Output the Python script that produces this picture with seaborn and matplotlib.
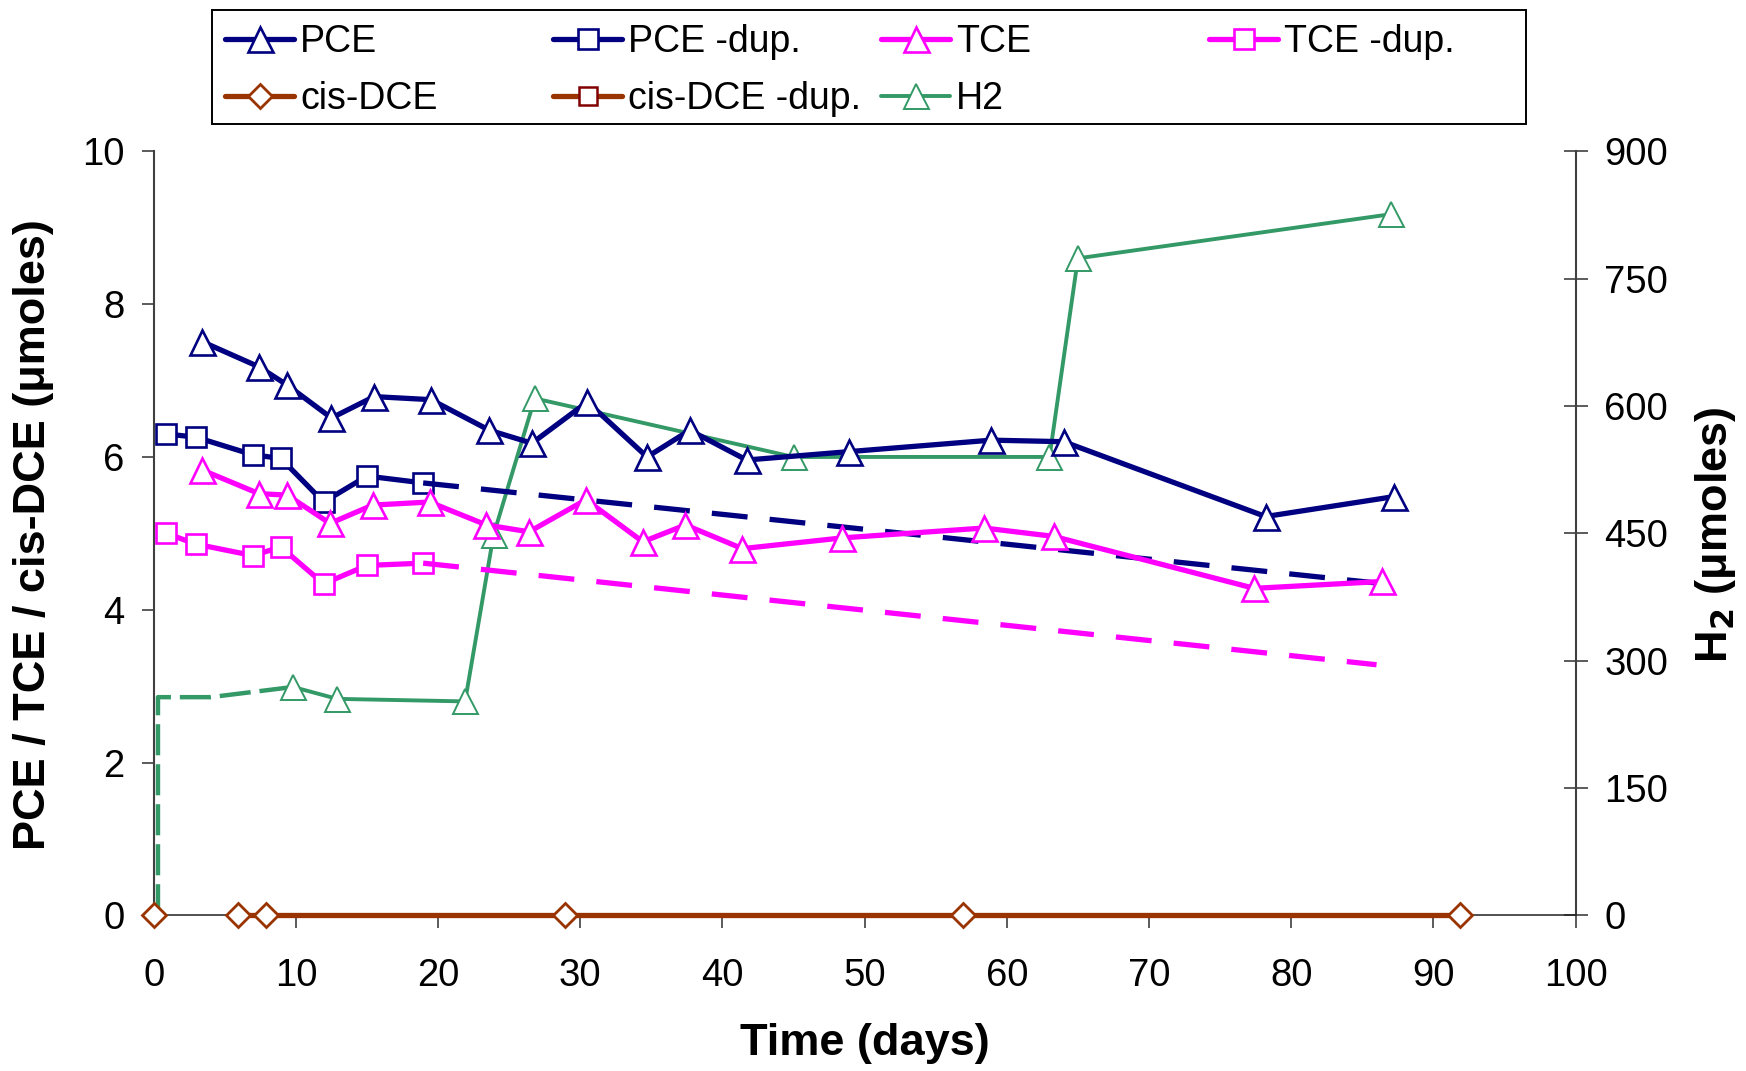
import matplotlib
matplotlib.use("Agg")
import matplotlib.pyplot as plt
from matplotlib.lines import Line2D
from matplotlib.patches import Rectangle
import seaborn as sns

# ---- data -------------------------------------------------------------
days_pce = [3.4, 7.4, 9.4, 12.5, 15.5, 19.5, 23.6, 26.6, 30.5, 34.7, 37.7,
            41.7, 48.9, 58.9, 64.0, 78.2, 87.2]
pce = [7.51, 7.18, 6.94, 6.51, 6.79, 6.75, 6.35, 6.18, 6.72, 6.00, 6.35,
       5.96, 6.07, 6.22, 6.20, 5.22, 5.48]

days_tce = [3.4, 7.4, 9.4, 12.4, 15.4, 19.4, 23.4, 26.4, 30.4, 34.4, 37.4,
            41.4, 48.4, 58.4, 63.3, 77.4, 86.4]
tce = [5.83, 5.52, 5.50, 5.13, 5.37, 5.41, 5.11, 5.02, 5.44, 4.89, 5.11,
       4.80, 4.94, 5.07, 4.96, 4.28, 4.37]

days_dup = [0.9, 2.95, 6.95, 8.95, 11.95, 15.0, 18.95]
pce_dup = [6.30, 6.26, 6.03, 5.98, 5.41, 5.75, 5.66]
tce_dup = [5.00, 4.86, 4.71, 4.82, 4.34, 4.58, 4.61]

# projected continuation of the duplicate series
days_dup_trend = [18.95, 86.0]
pce_dup_trend = [5.66, 4.35]
tce_dup_trend = [4.61, 3.28]

days_dce = [0.0, 5.9, 7.9, 28.9, 56.9, 91.9]
cis_dce = [0.0, 0.0, 0.0, 0.0, 0.0, 0.0]
days_dce_dup = []
cis_dce_dup = []

days_h2 = [9.8, 12.9, 21.9, 23.9, 26.8, 45.0, 63.0, 65.0, 87.0]
h2 = [269, 255, 252, 448, 609, 540, 540, 774, 826]

# initial H2 charge (before first measurement)
days_h2_start = [0.3, 0.3, 4.0, 9.8]
h2_start = [0, 257, 257, 269]

x_ticks = [0, 10, 20, 30, 40, 50, 60, 70, 80, 90, 100]
y_ticks = [0, 2, 4, 6, 8, 10]
h2_ticks = [0, 150, 300, 450, 600, 750, 900]

# ---- style ------------------------------------------------------------
NAVY = "#000080"
MAGENTA = "#FF00FF"
BROWN = "#993300"
DARKRED = "#800000"
GREEN = "#339966"
SPINE = "#404040"

sns.set_theme(style="white")
plt.rcParams["font.family"] = ["Liberation Sans", "DejaVu Sans"]
plt.rcParams.update({"text.color": "black", "axes.labelcolor": "black",
                     "xtick.color": "black", "ytick.color": "black"})

W, H, DPI = 1746, 1071, 100
fig = plt.figure(figsize=(W / DPI, H / DPI), dpi=DPI)
ax = fig.add_axes([153.7 / W, 1 - 915.3 / H, (1575.6 - 153.7) / W,
                   (915.3 - 151.4) / H])
ax2 = ax.twinx()
ax.set_zorder(ax2.get_zorder() + 1)
ax.patch.set_visible(False)

LW = 3.8
TRI_MS, SQ_MS, DI_MS = 18.0, 15.0, 12.0


def series(axis, x, y, color, marker=None, ms=0, lw=LW, ls="-", mew=1.9,
           mec=None):
    sns.lineplot(x=x, y=y, ax=axis, color=color, linewidth=lw, linestyle=ls,
                 marker=marker if marker else "", markersize=ms,
                 markerfacecolor="white", markeredgecolor=mec or color,
                 markeredgewidth=mew, estimator=None, sort=False,
                 legend=False, clip_on=False, zorder=3)
    return axis.lines[-1]


dash_long = (0, (6.8, 4.2))

# H2 on the secondary axis
series(ax2, days_h2_start, h2_start, GREEN, lw=3.2, ls=(0, (7.0, 2.0)))
h_h2 = series(ax2, days_h2, h2, GREEN, "^", TRI_MS, lw=2.8, mew=1.4)

# chlorinated ethenes on the primary axis
h_pce = series(ax, days_pce, pce, NAVY, "^", TRI_MS)
h_pce_dup = series(ax, days_dup, pce_dup, NAVY, "s", SQ_MS)
series(ax, days_dup_trend, pce_dup_trend, NAVY, ls=dash_long)
h_tce = series(ax, days_tce, tce, MAGENTA, "^", TRI_MS)
h_tce_dup = series(ax, days_dup, tce_dup, MAGENTA, "s", SQ_MS)
series(ax, days_dup_trend, tce_dup_trend, MAGENTA, ls=dash_long)
series(ax, days_dce[1:], cis_dce[1:], BROWN, lw=3.8)
series(ax, days_dce, cis_dce, BROWN, "D", DI_MS, lw=0, ls="none", mew=2.0)
h_dce_dup = ax.plot(days_dce_dup, cis_dce_dup, color=BROWN, lw=LW,
                    marker="s", ms=12.5, mfc="white", mec=DARKRED,
                    mew=1.8)[0]
h_dce = Line2D([], [], color=BROWN, lw=LW, marker="D", ms=DI_MS,
               mfc="white", mec=BROWN, mew=2.0)

# ---- axes ---------------------------------------------------------------
ax.set_xlim(0, 100)
ax.set_ylim(0, 10)
ax2.set_ylim(0, 900)
ax.set_xticks(x_ticks)
ax.set_yticks(y_ticks)
ax2.set_yticks(h2_ticks)

for s in ("top", "right"):
    ax.spines[s].set_visible(False)
for s in ("top", "left", "bottom"):
    ax2.spines[s].set_visible(False)
ax.spines["left"].set_color(SPINE)
ax.spines["left"].set_linewidth(1.5)
ax.spines["bottom"].set_color("#202020")
ax.spines["bottom"].set_linewidth(1.1)
ax2.spines["right"].set_color(SPINE)
ax2.spines["right"].set_linewidth(1.5)

TICK_FS = 27.5
ax.tick_params(axis="x", direction="out", length=9, width=1.2,
               color=SPINE, labelsize=TICK_FS, pad=22, bottom=True)
ax.tick_params(axis="y", direction="out", length=9, width=1.2,
               color=SPINE, labelsize=TICK_FS, pad=12, left=True)
ax2.tick_params(axis="y", direction="inout", length=17, width=1.2,
                color=SPINE, labelsize=TICK_FS, pad=12, right=True)

LABEL_FS = 32.5
ax.set_xlabel("Time (days)", fontsize=LABEL_FS, fontweight="bold",
              va="center")
ax.xaxis.set_label_coords(864.6 / W, 1 - 1043 / H, transform=fig.transFigure)
ax.set_ylabel("PCE / TCE / cis-DCE (μmoles)", fontsize=LABEL_FS,
              fontweight="bold", va="center")
ax.yaxis.set_label_coords(34 / W, 1 - 535 / H, transform=fig.transFigure)
ax2.set_ylabel("H$_\\mathbf{2}$ (μmoles)", fontsize=LABEL_FS,
               fontweight="bold", va="center", rotation=90)
ax2.yaxis.set_label_coords(1716 / W, 1 - 535 / H, transform=fig.transFigure)

# ---- legend -----------------------------------------------------------
fig.patches.append(Rectangle((212 / W, 1 - 123.6 / H), (1525.5 - 212) / W,
                             (123.6 - 10) / H, transform=fig.transFigure,
                             fill=False, edgecolor="black", linewidth=1.4,
                             zorder=5))
entries = [
    (h_pce, "PCE", 225, 42), (h_pce_dup, "PCE -dup.", 553, 42),
    (h_tce, "TCE", 881, 42), (h_tce_dup, "TCE -dup.", 1209, 42),
    (h_dce, "cis-DCE", 225, 99), (h_dce_dup, "cis-DCE -dup.", 553, 99),
    (h_h2, "H2", 881, 99),
]
for handle, label, xp, yp in entries:
    fig.legend(handles=[handle], labels=[label], loc="center left",
               bbox_to_anchor=(xp / W, 1 - yp / H), frameon=False,
               borderpad=0, borderaxespad=0, handlelength=1.85,
               handletextpad=0.15, fontsize=27)

fig.savefig("out.png", dpi=DPI)
